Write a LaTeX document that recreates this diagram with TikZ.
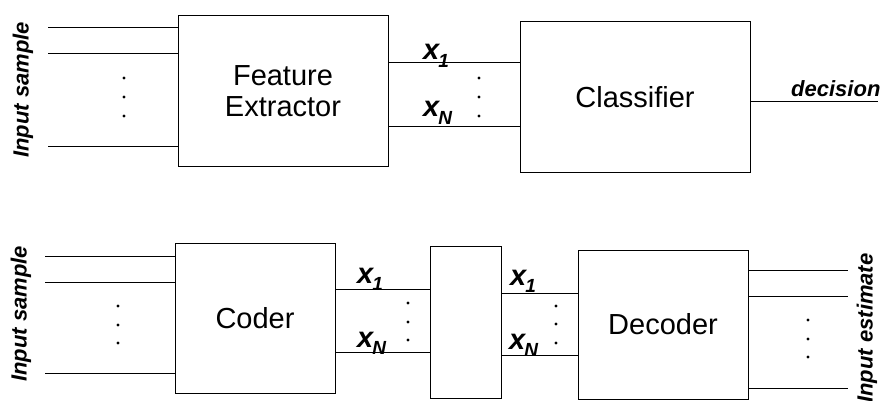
\documentclass[tikz,border=0pt]{standalone}
\usepackage{fontspec}
\setmainfont{Liberation Sans}
\begin{document}
\begin{tikzpicture}[x=1pt,y=-1pt,
  blk/.style={draw,line width=1pt,inner sep=0pt,font=\fontsize{29}{26}\selectfont,align=center},
  wire/.style={line width=1pt},
  lbl/.style={font=\fontsize{22}{22}\selectfont\bfseries\itshape,inner sep=0pt},
  sig/.style={font=\fontsize{29}{29}\selectfont\bfseries\itshape,inner sep=0pt,anchor=base west},
  dot/.style={circle,fill,inner sep=0pt,minimum size=3.2pt}]
\useasboundingbox (0,0) rectangle (885,401);
\newcommand{\xs}[1]{x\kern-1pt\raisebox{-0.25em}{\fontsize{19}{19}\selectfont #1}}
% top row
\node[blk,minimum width=210,minimum height=150] (fe) at (283,91) {Feature\\[5pt]Extractor};
\node[blk,minimum width=230,minimum height=150] (cl) at (635,97) {Classifier};
\coordinate (i1) at (48,28);
\coordinate (i2) at (48,54);
\coordinate (i3) at (48,146);
\draw[wire] (i1) -- (i1 -| fe.west);
\draw[wire] (i2) -- (i2 -| fe.west);
\draw[wire] (i3) -- (i3 -| fe.west);
\node[dot] (d1) at (124,78) {};
\node[dot] (d2) at (124,97) {};
\node[dot] (d3) at (124,116) {};
\node[lbl,rotate=90] (ins1) at (23,90) {Input sample};
\coordinate (o1) at (388,63);
\coordinate (o2) at (388,126);
\draw[wire] (o1) -- (o1 -| cl.west);
\draw[wire] (o2) -- (o2 -| cl.west);
\node[sig] (x1a) at (423,60) {\xs{1}};
\node[sig] (xna) at (423,117) {\xs{N}};
\node[dot] (d4) at (479,78) {};
\node[dot] (d5) at (479,97) {};
\node[dot] (d6) at (479,116) {};
\coordinate (dec) at (878,102);
\draw[wire] (cl.east |- dec) -- (dec);
\node[lbl,anchor=base west,font=\fontsize{22}{22}\selectfont\bfseries\itshape] (dect) at (791,97) {decision};
% bottom row
\node[blk,minimum width=160,minimum height=150] (co) at (255,318) {Coder};
\node[blk,minimum width=71,minimum height=152] (mid) at (465.5,322) {};
\node[blk,minimum width=170,minimum height=149] (de) at (663,324.5) {Decoder};
\coordinate (j1) at (45,256);
\coordinate (j2) at (45,282);
\coordinate (j3) at (45,373);
\draw[wire] (j1) -- (j1 -| co.west);
\draw[wire] (j2) -- (j2 -| co.west);
\draw[wire] (j3) -- (j3 -| co.west);
\node[dot] (e1) at (118,306) {};
\node[dot] (e2) at (118,325) {};
\node[dot] (e3) at (118,343) {};
\node[lbl,rotate=90] (ins2) at (21,314) {Input sample};
\coordinate (c1) at (335,289);
\coordinate (c2) at (335,352);
\draw[wire] (c1) -- (c1 -| mid.west);
\draw[wire] (c2) -- (c2 -| mid.west);
\node[sig] (x1b) at (357,283) {\xs{1}};
\node[sig] (xnb) at (357,347) {\xs{N}};
\node[dot] (e4) at (408,303) {};
\node[dot] (e5) at (408,322) {};
\node[dot] (e6) at (408,340) {};
\coordinate (m1) at (501,293);
\coordinate (m2) at (501,355);
\draw[wire] (m1) -- (m1 -| de.west);
\draw[wire] (m2) -- (m2 -| de.west);
\node[sig] (x1c) at (510,285) {\xs{1}};
\node[sig] (xnc) at (509,349) {\xs{N}};
\node[dot] (e7) at (556,306) {};
\node[dot] (e8) at (556,324) {};
\node[dot] (e9) at (556,343) {};
\coordinate (k1) at (848,270);
\coordinate (k2) at (848,296);
\coordinate (k3) at (848,388);
\draw[wire] (k1 -| de.east) -- (k1);
\draw[wire] (k2 -| de.east) -- (k2);
\draw[wire] (k3 -| de.east) -- (k3);
\node[dot] (f1) at (808,320) {};
\node[dot] (f2) at (808,339) {};
\node[dot] (f3) at (808,357) {};
\node[lbl,rotate=90] (inest) at (867,328) {Input estimate};
\end{tikzpicture}
\end{document}
